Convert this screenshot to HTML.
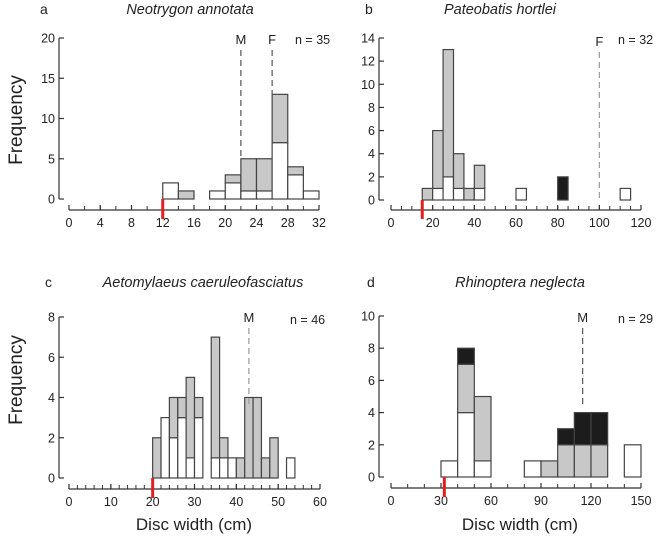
<!DOCTYPE html>
<html><head><meta charset="utf-8"><style>
body{margin:0;background:#fff}
svg{display:block;font-family:"Liberation Sans",sans-serif}
</style></head><body>
<svg id="fig" width="657" height="537" viewBox="0 0 657 537"></svg>
<script>
// Panel a
const aBins=[12,14,18,20,22,24,26,28,30];
const aWhite=[2,0,1,2,1,1,7,3,1];
const aGray=[0,1,0,1,4,4,6,1,0];
const aBlack=[0,0,0,0,0,0,0,0,0];
const aXTicks=[0,4,8,12,16,20,24,28,32];
const aYTicks=[0,5,10,15,20];
// Panel b
const bBins=[15,20,25,30,35,40,60,80,110];
const bWhite=[0,1,2,1,0,1,1,0,1];
const bGray=[1,5,11,3,1,2,0,0,0];
const bBlack=[0,0,0,0,0,0,0,2,0];
const bXTicks=[0,20,40,60,80,100,120];
const bYTicks=[0,2,4,6,8,10,12,14];
// Panel c
const cBins=[20,22,24,26,28,30,34,36,38,40,42,44,46,48,52];
const cWhite=[0,3,2,3,1,3,1,1,1,0,0,0,0,0,1];
const cGray=[2,0,2,1,4,1,6,1,0,1,4,4,1,2,0];
const cBlack=[0,0,0,0,0,0,0,0,0,0,0,0,0,0,0];
const cXTicks=[0,10,20,30,40,50,60];
const cYTicks=[0,2,4,6,8];
// Panel d
const dBins=[30,40,50,80,90,100,110,120,140];
const dWhite=[1,4,1,1,0,0,0,0,2];
const dGray=[0,3,4,0,1,2,2,2,0];
const dBlack=[0,1,0,0,0,1,2,2,0];
const dXTicks=[0,30,60,90,120,150];
const dYTicks=[0,2,4,6,8,10];

const NS="http://www.w3.org/2000/svg";
const svg=document.getElementById('fig');
function mk(t,a,p){const e=document.createElementNS(NS,t);for(const k in a)e.setAttribute(k,a[k]);(p||svg).appendChild(e);return e;}

function panel(o){
  const g=mk('g',{});
  
  
  const sx=v=>o.x0+(v-o.xmin)/(o.xmax-o.xmin)*(o.x1-o.x0);
  const sy=v=>o.y0-(v/o.ymax)*(o.y0-o.yTop);
  const ya=mk('line',{x1:o.yax,y1:o.yTop,x2:o.yax,y2:o.y0,stroke:'#333','stroke-width':1.2},g);
  
  o.yt.forEach(v=>{
    mk('line',{x1:o.yax,y1:sy(v),x2:o.yax+5,y2:sy(v),stroke:'#333','stroke-width':1.2},g);
    const t=mk('text',{x:o.yax-4,y:sy(v)+4.5,'text-anchor':'end','font-size':12.5,fill:'#222'},g);
    t.textContent=v;
    
  });
  const xa=mk('line',{x1:o.x0,y1:o.xay,x2:o.x1,y2:o.xay,stroke:'#333','stroke-width':1.2},g);
  
  for(let v=o.xmin;v<=o.xmax+1e-9;v+=o.minor){
    mk('line',{x1:sx(v),y1:o.xay,x2:sx(v),y2:o.xay-4,stroke:'#333','stroke-width':1},g);
  }
  o.xt.forEach(v=>{
    mk('line',{x1:sx(v),y1:o.xay,x2:sx(v),y2:o.xay-5,stroke:'#333','stroke-width':1.2},g);
    const t=mk('text',{x:sx(v),y:o.xay+17,'text-anchor':'middle','font-size':12.5,fill:'#222'},g);
    t.textContent=v;
    
  });
  o.bins.forEach((b,i)=>{
    const segs=[[o.w[i],'#fff'],[o.g[i],'#c8c8c8'],[o.k[i],'#1c1c1c']];
    let base=0;
    segs.forEach(([n,f])=>{
      if(n>0){
        const r=mk('rect',{x:sx(b),y:sy(base+n),width:sx(b+o.bw)-sx(b),height:sy(base)-sy(base+n),fill:f,stroke:'#444','stroke-width':1.2},g);
        
      }
      base+=n;
    });
  });
  const rt=mk('line',{x1:sx(o.red),y1:o.y0,x2:sx(o.red),y2:o.xay+9,stroke:'#e02020','stroke-width':3},g);
  
  o.dash.forEach(d=>{
    const l=mk('line',{x1:sx(d.v),y1:d.y1,x2:sx(d.v),y2:d.y2,stroke:d.c,'stroke-width':1.2,'stroke-dasharray':'6,4'},g);
    
    const t=mk('text',{x:sx(d.v),y:d.y1-6,'text-anchor':'middle','font-size':13,fill:'#222'},g);
    t.textContent=d.l;
    
  });
  const n=mk('text',{x:o.nx,y:o.ny,'text-anchor':'start','font-size':12.5,fill:'#222'},g);
  n.textContent=o.n;
  const lt=mk('text',{x:o.lx,y:o.ty,'font-size':14,fill:'#222'},g);
  lt.textContent=o.id;
  const ti=mk('text',{x:o.tx,y:o.ty,'text-anchor':'middle','font-size':14.5,'font-style':'italic',fill:'#222'},g);
  ti.textContent=o.title;
}

panel({id:'a',title:'Neotrygon annotata',bins:aBins,w:aWhite,g:aGray,k:aBlack,bw:2,xmin:0,xmax:32,minor:2,xt:aXTicks,yt:aYTicks,ymax:20,
 x0:69,x1:319,yax:59,yTop:38,y0:199,xay:210,red:12,dash:[{v:22,l:'M',y1:50,y2:160,c:'#555'},{v:26,l:'F',y1:50,y2:95,c:'#555'}],
 nx:295,ny:44,n:'n = 35',lx:40,tx:190,ty:14});
panel({id:'b',title:'Pateobatis hortlei',bins:bBins,w:bWhite,g:bGray,k:bBlack,bw:5,xmin:0,xmax:120,minor:5,xt:bXTicks,yt:bYTicks,ymax:14,
 x0:391,x1:641,yax:379,yTop:38,y0:200,xay:210,red:15,dash:[{v:100,l:'F',y1:52,y2:200,c:'#999'}],
 nx:618,ny:44,n:'n = 32',lx:365,tx:500,ty:14});
panel({id:'c',title:'Aetomylaeus caeruleofasciatus',bins:cBins,w:cWhite,g:cGray,k:cBlack,bw:2,xmin:0,xmax:60,minor:2,xt:cXTicks,yt:cYTicks,ymax:8,
 x0:69,x1:320,yax:59,yTop:317,y0:478,xay:489,red:20,dash:[{v:43,l:'M',y1:328,y2:405,c:'#999'}],
 nx:290,ny:324,n:'n = 46',lx:45,tx:203,ty:287});
panel({id:'d',title:'Rhinoptera neglecta',bins:dBins,w:dWhite,g:dGray,k:dBlack,bw:10,xmin:0,xmax:150,minor:10,xt:dXTicks,yt:dYTicks,ymax:10,
 x0:391,x1:641,yax:379,yTop:316,y0:477,xay:488,red:32,dash:[{v:115,l:'M',y1:328,y2:405,c:'#555'}],
 nx:618,ny:323,n:'n = 29',lx:367,tx:520,ty:287});

[[120],[380]].forEach(([cy])=>{
  const t=mk('text',{x:0,y:0,transform:`translate(22,${cy}) rotate(-90)`,'text-anchor':'middle','font-size':19,fill:'#222'});
  t.textContent='Frequency';
  
  
});
[[194],[520]].forEach(([cx])=>{
  const t=mk('text',{x:cx,y:530,'text-anchor':'middle','font-size':17,fill:'#222'});
  t.textContent='Disc width (cm)';
  
  
});
</script>
</body></html>
